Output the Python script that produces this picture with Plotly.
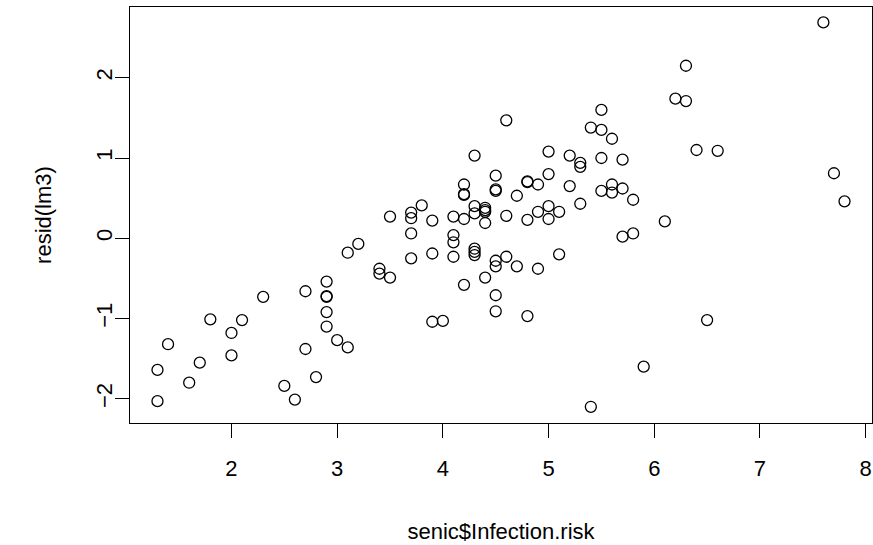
import plotly.graph_objects as go

infection_risk = [
    1.3, 1.3, 1.4, 1.6, 1.7, 1.8, 2.0, 2.0, 2.1, 2.3,
    2.5, 2.6, 2.7, 2.7, 2.8, 2.9, 2.9, 2.9, 2.9, 2.9,
    3.0, 3.1, 3.1, 3.2, 3.4, 3.4, 3.5, 3.5, 3.7, 3.7,
    3.7, 3.7, 3.8, 3.9, 3.9, 3.9, 4.0, 4.1, 4.1, 4.1,
    4.1, 4.2, 4.2, 4.2, 4.2, 4.2, 4.3, 4.3, 4.3, 4.3,
    4.3, 4.3, 4.4, 4.4, 4.4, 4.4, 4.4, 4.5, 4.5, 4.5,
    4.5, 4.5, 4.5, 4.5, 4.6, 4.6, 4.6, 4.7, 4.7, 4.8,
    4.8, 4.8, 4.8, 4.9, 4.9, 4.9, 5.0, 5.0, 5.0, 5.0,
    5.1, 5.1, 5.2, 5.2, 5.3, 5.3, 5.3, 5.4, 5.4, 5.5,
    5.5, 5.5, 5.5, 5.6, 5.6, 5.6, 5.7, 5.7, 5.7, 5.8,
    5.8, 5.9, 6.1, 6.2, 6.3, 6.3, 6.4, 6.5, 6.6, 7.6,
    7.7, 7.8,
]
resid_lm3 = [
    -2.03, -1.64, -1.32, -1.80, -1.55, -1.01, -1.18, -1.46, -1.02, -0.73,
    -1.84, -2.01, -0.66, -1.38, -1.73, -0.54, -0.72, -0.73, -0.92, -1.10,
    -1.27, -1.36, -0.18, -0.07, -0.38, -0.44, -0.49, 0.27, 0.32, 0.25,
    0.06, -0.25, 0.41, 0.22, -0.19, -1.04, -1.03, 0.27, 0.04, -0.05,
    -0.23, 0.67, 0.55, 0.54, 0.24, -0.58, 1.03, 0.40, 0.31, -0.13,
    -0.17, -0.21, 0.38, 0.35, 0.33, 0.19, -0.49, 0.78, 0.61, 0.59,
    -0.28, -0.35, -0.71, -0.91, 1.47, 0.28, -0.23, 0.53, -0.35, 0.71,
    0.70, 0.23, -0.97, 0.67, 0.33, -0.38, 1.08, 0.80, 0.40, 0.24,
    0.33, -0.20, 1.03, 0.65, 0.94, 0.89, 0.43, 1.38, -2.10, 1.60,
    1.35, 1.00, 0.59, 1.24, 0.67, 0.57, 0.98, 0.62, 0.02, 0.48,
    0.06, -1.60, 0.21, 1.74, 1.71, 2.15, 1.10, -1.02, 1.09, 2.69,
    0.81, 0.46,
]
x_ticks = [2, 3, 4, 5, 6, 7, 8]
y_ticks = [-2, -1, 0, 1, 2]
x_title = "senic$Infection.risk"
y_title = "resid(lm3)"

FONT = "Liberation Sans, Arial, sans-serif"
FSIZE = 22

fig = go.Figure(
    go.Scatter(
        x=infection_risk,
        y=resid_lm3,
        mode="markers",
        marker=dict(symbol="circle-open", size=11, color="black",
                    line=dict(width=1.3, color="black")),
        hoverinfo="x+y",
        cliponaxis=False,
    )
)

axis_common = dict(
    showline=True, linecolor="black", linewidth=1, mirror=True,
    showgrid=False, zeroline=False, ticks="outside", ticklen=14,
    tickwidth=1, tickcolor="black", automargin=False,
    tickfont=dict(family=FONT, size=FSIZE, color="black"),
)

fig.update_xaxes(
    range=[1.04, 8.06], tickmode="array", tickvals=x_ticks,
    ticktext=[str(v) for v in x_ticks],
    ticklabelstandoff=12,
    title=dict(text=x_title, font=dict(family=FONT, size=FSIZE, color="black"),
               standoff=43),
    **axis_common,
)
fig.update_yaxes(
    range=[-2.302, 2.882], tickmode="array", tickvals=y_ticks,
    tickangle=-90,
    ticklabelstandoff=-6,
    title=dict(text=y_title, font=dict(family=FONT, size=FSIZE, color="black"),
               standoff=34),
    **axis_common,
)

fig.update_layout(
    width=873, height=545,
    margin=dict(l=130, r=1, t=7, b=122, autoexpand=False),
    plot_bgcolor="white", paper_bgcolor="white",
    showlegend=False,
    font=dict(family=FONT, color="black"),
)

fig.write_html(
    "out.html",
    config={"displayModeBar": False},
    post_script="document.body.style.margin='0';document.body.style.overflow='hidden';",
)
